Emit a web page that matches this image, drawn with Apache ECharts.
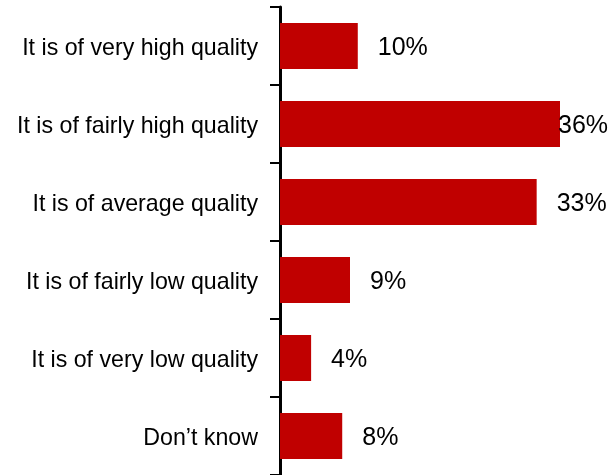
<!DOCTYPE html>
<html>
<head>
<meta charset="utf-8">
<script src="https://cdn.jsdelivr.net/npm/echarts@6/dist/echarts.min.js"></script>
<style>
  html, body { margin: 0; padding: 0; background: #fff; }
  #chart { width: 616px; height: 475px; }
</style>
</head>
<body>
<div id="chart"></div>
<script>
// Answers, top to bottom
const categories = [
  'It is of very high quality',
  'It is of fairly high quality',
  'It is of average quality',
  'It is of fairly low quality',
  'It is of very low quality',
  'Don\u2019t know'
];
// Share of respondents, percent
const shares = [10, 36, 33, 9, 4, 8];

const FONT = '"Liberation Sans", Arial, sans-serif';

const chart = echarts.init(document.getElementById('chart'), null, { renderer: 'canvas' });

chart.setOption({
  animation: false,
  backgroundColor: '#ffffff',
  grid: { left: 280, right: 0, top: 7, bottom: -2, containLabel: false },
  xAxis: {
    type: 'value',
    min: 0,
    max: 43.2,
    show: false
  },
  yAxis: {
    type: 'category',
    inverse: true,
    data: categories,
    axisLine: { show: true, lineStyle: { color: '#000', width: 3 } },
    axisTick: { show: true, length: 10, lineStyle: { color: '#000', width: 2 } },
    axisLabel: {
      margin: 22,
      formatter: v => '{t|' + v + '}',
      rich: {
        t: {
          color: '#000',
          fontFamily: FONT,
          fontSize: 23.2,
          padding: [5, 0, 0, 0]
        }
      }
    },
    splitLine: { show: false }
  },
  series: [{
    type: 'bar',
    barWidth: 46,
    itemStyle: { color: '#C00000' },
    data: shares.map(v => ({
      value: v,
      label: { distance: v === 36 ? -2 : 20 }
    })),
    label: {
      show: true,
      position: 'right',
      formatter: p => '{t|' + p.value + '%}',
      rich: {
        t: {
          color: '#000',
          fontFamily: FONT,
          fontSize: 25,
          padding: [5, 0, 0, 0]
        }
      }
    }
  }]
});
</script>
</body>
</html>
